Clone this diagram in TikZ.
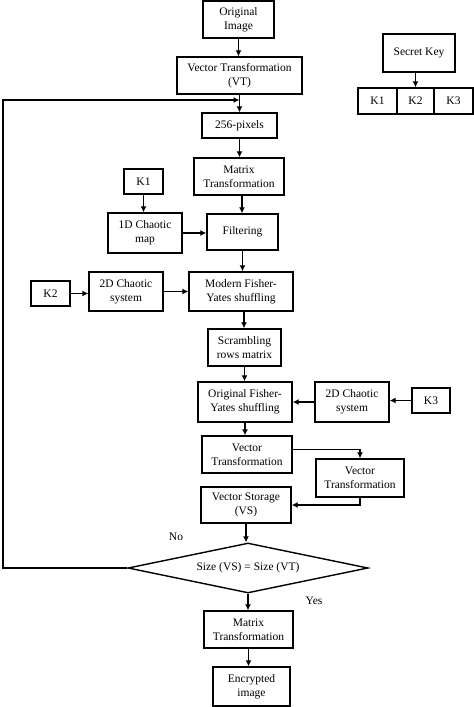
\documentclass[tikz,border=0pt]{standalone}
\usepackage{fontspec}
\setmainfont{Liberation Serif}
\usetikzlibrary{shapes.geometric,arrows.meta}

\begin{document}
\begin{tikzpicture}[x=1pt, y=-1pt,
        box/.style={rectangle, draw=black, line width=1.4pt, align=center, inner sep=1pt, font=\fontsize{11.5}{14}\selectfont},
        decision/.style={diamond, draw=black, line width=1.4pt, aspect=4.8, inner sep=0pt, minimum width=240pt, minimum height=50pt, font=\fontsize{11.5}{14}\selectfont},
        arrow/.style={-{Latex[length=6pt,width=6pt]}, line width=1.4pt}]

        \useasboundingbox (0,0) rectangle (474,707);

        % Main column
        \node[box, minimum width=71pt, minimum height=37pt] (orig) at (238.5,19.5) {Original\\Image};
        \node[box, minimum width=125pt, minimum height=37pt] (vt) at (239.5,75.5) {Vector Transformation\\(VT)};
        \node[box, minimum width=75pt, minimum height=25pt] (pix) at (239.5,125.5) {256-pixels};
        \node[box, minimum width=90pt, minimum height=37pt] (mat) at (239,176.5) {Matrix\\Transformation};
        \node[box, minimum width=71pt, minimum height=36pt] (filt) at (242.5,232) {Filtering};
        \node[box, minimum width=104pt, minimum height=39pt] (modfy) at (241,291.5) {Modern Fisher-\\Yates shuffling};
        \node[box, minimum width=73pt, minimum height=37pt] (scram) at (244.5,347.5) {Scrambling\\rows matrix};
        \node[box, minimum width=94pt, minimum height=40pt] (origfy) at (245,402) {Original Fisher-\\Yates shuffling};
        \node[box, minimum width=90pt, minimum height=37pt] (vtmid) at (247,454.5) {Vector\\Transformation};
        \node[box, minimum width=88pt, minimum height=38pt] (vtside) at (360,478) {Vector\\Transformation};
        \node[box, minimum width=90pt, minimum height=36pt] (vs) at (246,505) {Vector Storage\\(VS)};
        \node[decision] (check) at (248,568) {Size (VS) = Size (VT)};
        \node[box, minimum width=89pt, minimum height=37pt] (matout) at (248.5,629.5) {Matrix\\Transformation};
        \node[box, minimum width=77pt, minimum height=39pt] (enc) at (251.5,686.5) {Encrypted\\image};

        % Key inputs
        \node[box, minimum width=39pt, minimum height=25pt] (kone) at (143.5,181.5) {K1};
        \node[box, minimum width=74pt, minimum height=40pt] (chaosone) at (145,233) {1D Chaotic\\map};
        \node[box, minimum width=39pt, minimum height=25pt] (ktwo) at (50.5,293.5) {K2};
        \node[box, minimum width=74pt, minimum height=39pt] (chaostwo) at (126,291.5) {2D Chaotic\\system};
        \node[box, minimum width=74pt, minimum height=40pt] (chaosthree) at (352,402) {2D Chaotic\\system};
        \node[box, minimum width=38pt, minimum height=25pt] (kthree) at (431,400.5) {K3};

        % Secret key
        \node[box, minimum width=72pt, minimum height=38pt] (secret) at (419,53) {Secret Key};
        \node[box, minimum width=39pt, minimum height=26pt] (keyone) at (377.5,101) {K1};
        \node[box, minimum width=37pt, minimum height=26pt] (keytwo) at (415.5,101) {K2};
        \node[box, minimum width=39pt, minimum height=26pt] (keythree) at (453.5,101) {K3};

        % Labels
        \node[font=\fontsize{11.5}{14}\selectfont] (no) at (176,537) {No};
        \node[font=\fontsize{11.5}{14}\selectfont] (yes) at (314,601) {Yes};

        % Loop back point
        \coordinate (back) at (239.5,100);
        \coordinate (loop) at (3,568);

        % Arrows
        \draw[arrow] (orig.south) -- (orig.south |- vt.north);
        \draw[arrow] (vt.south) -- (vt.south |- pix.north);
        \draw[arrow] (pix.south) -- (pix.south |- mat.north);
        \draw[arrow] ([xshift=3pt]mat.south) -- ([xshift=3pt]mat.south |- filt.north);
        \draw[arrow] (filt.south) -- (filt.south |- modfy.north);
        \draw[arrow] ([xshift=3pt]modfy.south) -- ([xshift=3pt]modfy.south |- scram.north);
        \draw[arrow] (scram.south) -- (scram.south |- origfy.north);
        \draw[arrow] (origfy.south) -- (origfy.south |- vtmid.north);
        \draw[arrow] ([yshift=5pt]vtmid.east) -| (vtside.north);
        \draw[arrow] (vtside.south) |- (vs.east);
        \draw[arrow] (vs.south) -- (vs.south |- check.north);
        \draw[arrow] (check.south) -- (check.south |- matout.north);
        \draw[arrow] (matout.south) -- (matout.south |- enc.north);

        \draw[arrow] (kone.south) -- (kone.south |- chaosone.north);
        \draw[arrow] (chaosone) -- (chaosone -| filt.west);
        \draw[arrow] (ktwo) -- (ktwo -| chaostwo.west);
        \draw[arrow] (chaostwo) -- (chaostwo -| modfy.west);
        \draw[arrow] (kthree) -- (kthree -| chaosthree.east);
        \draw[arrow] (chaosthree) -- (chaosthree -| origfy.east);

        \draw[arrow] (secret.south -| keytwo) -- (keytwo.north);

        \draw[arrow] (check.west) -- (loop) |- (back);

    \end{tikzpicture}
\end{document}
